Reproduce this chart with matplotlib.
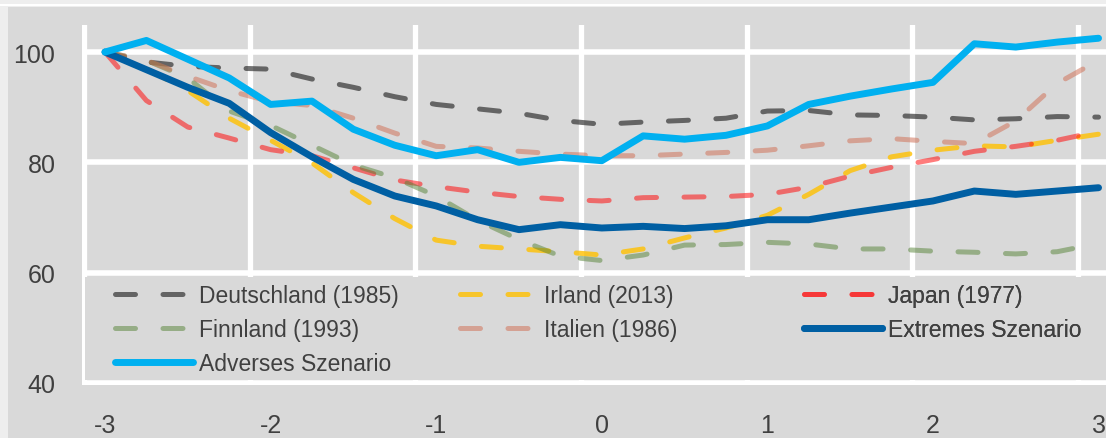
import numpy as np
import matplotlib
matplotlib.use('Agg')
from matplotlib import pyplot as plt
from matplotlib.patches import Rectangle
from matplotlib.lines import Line2D

W, H = 1106, 439
GREY = '#d9d9d9'
TEXT = '#404040'

# quarters around the start of the crisis
quarters = np.linspace(-3, 3, 25)

deutschland = [100, 98.2, 97.4, 97.1, 96.9, 95.1, 93.6, 91.9, 90.5, 89.7, 88.9, 87.6, 86.9,
               87.3, 87.6, 88.0, 89.3, 89.4, 88.6, 88.5, 88.2, 87.7, 87.9, 88.3, 88.2]
irland = [100, 97.0, 93.0, 88.0, 84.0, 79.9, 74.5, 69.8, 65.9, 64.8, 64.3, 63.8, 63.2,
          64.3, 66.3, 68.1, 70.4, 74.2, 78.5, 81.0, 82.2, 83.0, 82.8, 84.0, 85.1]
japan = [100, 91.2, 86.4, 84.4, 82.3, 81.2, 79.0, 76.8, 75.6, 74.6, 73.8, 73.3, 73.0,
         73.6, 73.7, 73.8, 74.2, 75.5, 77.5, 79.1, 80.5, 82.0, 82.9, 84.0, 85.6]
finnland = [100, 98.5, 95.3, 89.3, 86.7, 83.1, 79.5, 77.2, 73.9, 69.5, 66.0, 63.0, 62.2,
            63.2, 65.0, 65.1, 65.5, 65.2, 64.3, 64.3, 63.9, 63.7, 63.4, 63.8, 65.3]
italien = [100, 98.5, 95.6, 93.0, 91.0, 90.3, 88.0, 85.3, 82.9, 82.6, 82.0, 81.5, 81.2,
           81.2, 81.5, 81.8, 82.2, 83.0, 83.9, 84.3, 83.8, 83.4, 87.5, 94.3, 98.5]
extremes = [100, 96.8, 93.6, 90.7, 85.4, 81.0, 76.9, 73.9, 72.1, 69.6, 67.8, 68.7, 68.1,
            68.4, 68.0, 68.5, 69.6, 69.6, 70.8, 71.9, 73.0, 74.8, 74.2, 74.8, 75.4]
adverses = [100, 102.1, 98.7, 95.3, 90.5, 91.1, 86.0, 83.1, 81.2, 82.3, 80.0, 80.9, 80.3,
            84.8, 84.2, 84.9, 86.6, 90.5, 92.0, 93.3, 94.5, 101.5, 100.9, 101.8, 102.5]

plt.rcParams['font.family'] = ['Liberation Sans', 'DejaVu Sans']

fig = plt.figure(figsize=(W / 100, H / 100), dpi=100)
fig.patch.set_facecolor('#eeeeee')
fig.add_artist(Rectangle((8 / W, 0), 1, 1 - 8 / H, transform=fig.transFigure,
                         facecolor=GREY, edgecolor='none', zorder=-5))
fig.add_artist(Line2D([0, 1], [1 - 5.5 / H] * 2, transform=fig.transFigure,
                      color='white', lw=1.5, zorder=-4))


def px(v):
    return 105 + (v + 3) * 165.6


x_left, x_right = -3.14, 3.045
y_bot, y_top = 39.6, 104.9
ax = fig.add_axes([px(x_left) / W, (H - 386.2) / H, (W - px(x_left)) / W, (386.2 - 26) / H])
ax.set_facecolor(GREY)
ax.set_xlim(x_left, x_right)
ax.set_ylim(y_bot, y_top)
for s in ax.spines.values():
    s.set_visible(False)

for g in [40, 60, 80, 100]:
    ax.axhline(g, color='white', lw=4, zorder=0.5)
for k in range(-3, 4):
    ax.axvline(k - 0.125, color='white', lw=3.8, zorder=0.5)

dashed = [
    (deutschland, '#262626', 0.65, 'Deutschland (1985)'),
    (irland, '#FFC000', 0.8, 'Irland (2013)'),
    (japan, '#FF1010', 0.55, 'Japan (1977)'),
    (finnland, '#548235', 0.5, 'Finnland (1993)'),
    (italien, '#D0735A', 0.55, 'Italien (1986)'),
]
handles = {}
for vals, col, a, lab in dashed:
    ln, = ax.plot(quarters, vals, color=col, alpha=a, lw=3.6, dashes=(4, 5.5),
                  dash_capstyle='round', solid_capstyle='round', zorder=2, label=lab)
    handles[lab] = ln
ln, = ax.plot(quarters, extremes, color='#005FA3', lw=5, solid_capstyle='round',
              solid_joinstyle='round', zorder=2.2, label='Extremes Szenario')
handles['Extremes Szenario'] = ln
ln, = ax.plot(quarters, adverses, color='#00B0F0', lw=5, solid_capstyle='round',
              solid_joinstyle='round', zorder=2.3, label='Adverses Szenario')
handles['Adverses Szenario'] = ln

ax.set_xticks([-3, -2, -1, 0, 1, 2, 3])
ax.set_xticklabels(['-3', '-2', '-1', '0', '1', '2', '3'])
ax.set_yticks([40, 60, 80, 100])
ax.tick_params(length=0, labelsize=18, labelcolor=TEXT)
ax.tick_params(axis='x', pad=20)
ax.tick_params(axis='y', pad=19)

# legend area covers the lower grid
ax.add_patch(Rectangle((-3.12, 40.55), 6.3, 18.67, facecolor=GREY, edgecolor='none', zorder=3))

columns = [
    (115, ['Deutschland (1985)', 'Finnland (1993)', 'Adverses Szenario']),
    (460, ['Irland (2013)', 'Italien (1986)']),
    (804, ['Japan (1977)', 'Extremes Szenario']),
]
for cx, labs in columns:
    leg = ax.legend([handles[l] for l in labs], labs, loc='upper left',
                    bbox_to_anchor=(cx / W, 1 - 285 / H), bbox_transform=fig.transFigure,
                    frameon=False, fontsize=16.5, handlelength=3.4, handletextpad=0.25,
                    labelspacing=0.47, borderpad=0, borderaxespad=0, labelcolor=TEXT)
    leg.set_zorder(4)
    ax.add_artist(leg)

fig.savefig('out.png', dpi=100, facecolor=fig.get_facecolor())
